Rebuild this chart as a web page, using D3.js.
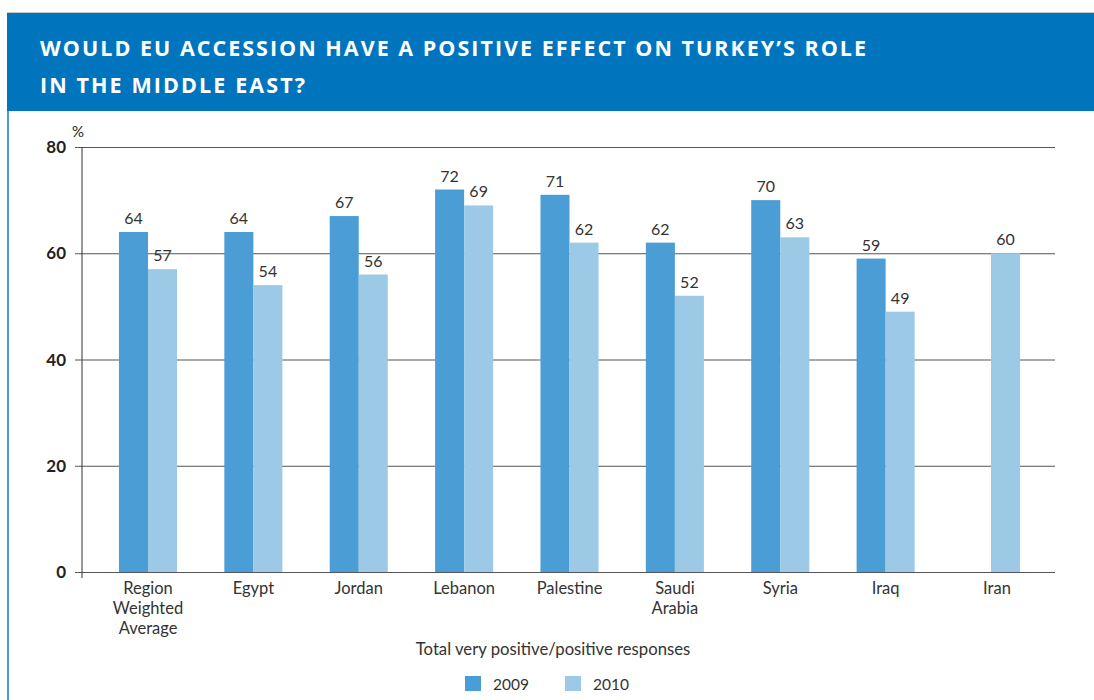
<!DOCTYPE html>
<html>
<head>
<meta charset="utf-8">
<script src="https://cdn.jsdelivr.net/npm/d3@7"></script>
<style>
  html, body { margin: 0; padding: 0; background: #fff; }
  svg { display: block; }
</style>
</head>
<body>
<svg id="chart" width="1094" height="700"></svg>
<script>
// ---- data ----
const categories = [["Region","Weighted","Average"],["Egypt"],["Jordan"],["Lebanon"],["Palestine"],["Saudi","Arabia"],["Syria"],["Iraq"],["Iran"]];
const series2009 = [64, 64, 67, 72, 71, 62, 70, 59, null];
const series2010 = [57, 54, 56, 69, 62, 52, 63, 49, 60];
const seriesNames = ["2009", "2010"];
const yTicks = [0, 20, 40, 60, 80];
const titleLines = ["WOULD EU ACCESSION HAVE A POSITIVE EFFECT ON TURKEY\u2019S ROLE", "IN THE MIDDLE EAST?"];
const xAxisTitle = "Total very positive/positive responses";

const colors = ["#4a9ed5", "#9bc9e6"];
const svg = d3.select("#chart");
const font = "Lato, 'Open Sans', sans-serif";

// frame/header
svg.append("rect").attr("x", 7).attr("y", 12).attr("width", 1087).attr("height", 1.5).attr("fill", "#c8c8c8");
svg.append("rect").attr("x", 7).attr("y", 13).attr("width", 1087).attr("height", 98).attr("fill", "#0075be");
svg.append("rect").attr("x", 7).attr("y", 111).attr("width", 2).attr("height", 589).attr("fill", "#4a9ed5");

const titleLens = [826, 265];
titleLines.forEach((t, i) => {
  svg.append("text").attr("x", 40).attr("y", 56 + i * 37)
    .attr("fill", "#fff").attr("font-family", "'Open Sans', sans-serif")
    .attr("font-weight", 700).attr("font-size", 21.5)
    .attr("textLength", titleLens[i]).attr("lengthAdjust", "spacing")
    .text(t);
});

// scales
const y = d3.scaleLinear().domain([0, 80]).range([572, 147]);
const x0 = d3.scaleBand().domain(d3.range(categories.length)).range([95.3, 1043.7]).paddingInner(0.449).paddingOuter(0.2245);
const x1 = d3.scaleBand().domain([0, 1]).range([0, x0.bandwidth()]);

// gridlines
const yAxis = d3.axisLeft(y).tickValues(yTicks).tickSize(-(1055 - 75)).tickFormat("");
const gy = svg.append("g").attr("transform", "translate(75,0)").call(yAxis);
gy.select(".domain").remove();
gy.selectAll(".tick line").attr("stroke", "#555").attr("stroke-width", 1);
// tick labels
svg.append("g").selectAll("text").data(yTicks).join("text")
  .attr("x", 66).attr("y", d => y(d) + 6).attr("text-anchor", "end")
  .attr("font-family", font).attr("font-weight", 700).attr("font-size", 17).attr("fill", "#222")
  .text(d => d);
svg.append("text").attr("x", 72).attr("y", 137).attr("font-family", font).attr("font-size", 15).attr("fill", "#222").text("%");
// y axis line
svg.append("line").attr("x1", 82).attr("x2", 82).attr("y1", 147).attr("y2", 578).attr("stroke", "#333").attr("stroke-width", 1);

// bars
const allSeries = [series2009, series2010];
const groups = svg.append("g").selectAll("g").data(categories.map((c, i) => i)).join("g")
  .attr("transform", i => `translate(${x0(i)},0)`);
groups.each(function(i) {
  const g = d3.select(this);
  allSeries.forEach((s, k) => {
    const v = s[i];
    if (v == null) return;
    g.append("rect").attr("x", x1(k)).attr("y", y(v)).attr("width", x1.bandwidth()).attr("height", y(0) - y(v)).attr("fill", colors[k]);
    g.append("text").attr("x", x1(k) + x1.bandwidth() / 2).attr("y", y(v) - 8)
      .attr("text-anchor", "middle").attr("font-family", font).attr("font-size", 16).attr("fill", "#333").text(v);
  });
});

// category labels
groups.each(function(i) {
  const g = d3.select(this);
  const t = g.append("text").attr("text-anchor", "middle").attr("font-family", font).attr("font-size", 16.5).attr("fill", "#333");
  categories[i].forEach((line, j) => {
    t.append("tspan").attr("x", x0.bandwidth() / 2 + (series2009[i] == null ? 6 : 0)).attr("y", 594 + j * 20).text(line);
  });
});

// axis title
svg.append("text").attr("x", 553).attr("y", 655).attr("text-anchor", "middle")
  .attr("font-family", font).attr("font-size", 16.7).attr("fill", "#333").text(xAxisTitle);

// legend
const legendX = [465, 565];
seriesNames.forEach((n, k) => {
  svg.append("rect").attr("x", legendX[k]).attr("y", 676).attr("width", 16).attr("height", 15).attr("fill", colors[k]);
  svg.append("text").attr("x", legendX[k] + 28).attr("y", 690).attr("font-family", font).attr("font-size", 15.5).attr("fill", "#333").text(n);
});
</script>
</body>
</html>
